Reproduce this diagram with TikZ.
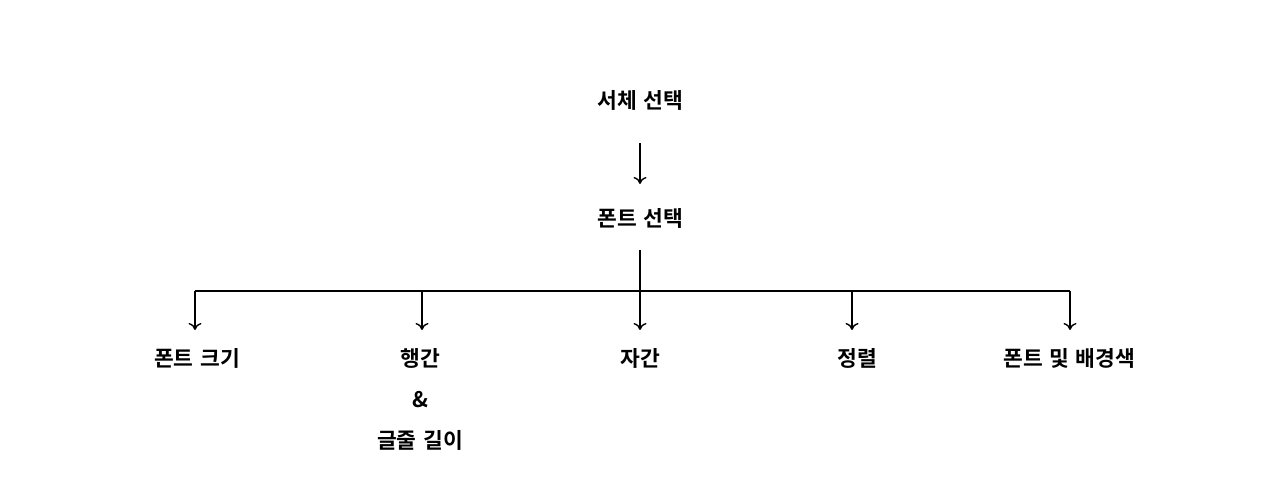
\documentclass[tikz,border=0pt]{standalone}
\usepackage{fontspec}
\setmainfont{Noto Sans CJK KR}[BoldFont={* Bold}]
\usetikzlibrary{arrows.meta}
\newcommand{\lblfontsetup}{\fontsize{21.5}{26}\selectfont\bfseries\spaceskip=0.3em plus 0pt minus 0pt\relax}
\begin{document}
\begin{tikzpicture}[x=1pt,y=-1pt,
  lbl/.style={font=\lblfontsetup, inner sep=0pt, anchor=center},
  conn/.style={line width=1.4pt, black},
  arr/.style={conn, -{To[length=7pt,width=13pt,line width=1.4pt]}}]
\useasboundingbox[fill=white] (0,0) rectangle (1280,498);
\node[lbl] (root) at (640,100) {서체 선택};
\node[lbl] (font) at (640,218) {폰트 선택};
\coordinate (a1) at (640,143);
\coordinate (a2) at (640,184);
\draw[arr] (a1) -- (a2);
\coordinate (s) at (640,250);
\coordinate (j) at (640,291);
\coordinate (h1) at (195,291);
\coordinate (h2) at (422,291);
\coordinate (h4) at (852,291);
\coordinate (h5) at (1070,291);
\node[lbl] (c1) at (197,358) {폰트 크기};
\node[lbl] (c2) at (420,358) {행간};
\node[lbl] (amp) at (420,400) {\&};
\node[lbl] (c2b) at (420,440) {글줄 길이};
\node[lbl] (c3) at (640,358) {자간};
\node[lbl] (c4) at (857,358) {정렬};
\node[lbl] (c5) at (1069,358) {폰트 및 배경색};
\coordinate (t1) at (195,330);
\coordinate (t2) at (422,330);
\coordinate (t3) at (640,330);
\coordinate (t4) at (852,330);
\coordinate (t5) at (1070,330);
\draw[conn] (s) -- (j);
\draw[conn] (h1) -- (h5);
\draw[arr] (h1) -- (t1);
\draw[arr] (h2) -- (t2);
\draw[arr] (j) -- (t3);
\draw[arr] (h4) -- (t4);
\draw[arr] (h5) -- (t5);
\end{tikzpicture}
\end{document}
